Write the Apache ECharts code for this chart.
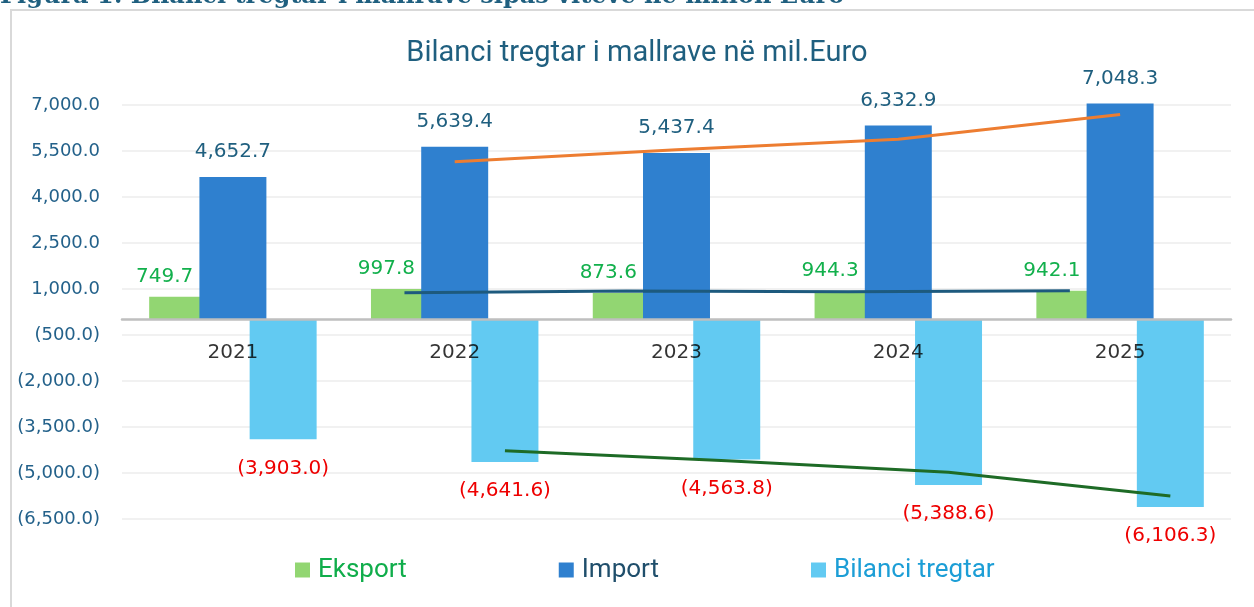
<!DOCTYPE html>
<html>
<head>
<meta charset="utf-8">
<script src="https://cdn.jsdelivr.net/npm/echarts@6/dist/echarts.min.js"></script>
<style>
html,body{margin:0;padding:0;background:#fff;}
#chart{width:1254px;height:607px;}
</style>
</head>
<body>
<div id="chart"></div>
<script>
// ---- data ----
var categories = ['2021', '2022', '2023', '2024', '2025'];
var eksport = [749.7, 997.8, 873.6, 944.3, 942.1];
var importVals = [4652.7, 5639.4, 5437.4, 6332.9, 7048.3];
var bilanci = [-3903.0, -4641.6, -4563.8, -5388.6, -6106.3];
var seriesNames = ['Eksport', 'Import', 'Bilanci tregtar'];
var yTicks = { min: -6500, max: 7000, step: 1500 };
var chartTitle = 'Bilanci tregtar i mallrave në mil.Euro';
var caption = 'Figura 1: Bilanci tregtar i mallrave sipas viteve në milion Euro';

// ---- helpers ----
function fmt(v) {
  var a = Math.abs(v).toFixed(1).split('.');
  var s = a[0].replace(/\B(?=(\d{3})+(?!\d))/g, ',') + '.' + a[1];
  return v < 0 ? '(' + s + ')' : s;
}
// 2-period moving average trendline (as drawn by the spreadsheet)
function movingAvg(arr) {
  var out = [];
  for (var i = 1; i < arr.length; i++) out.push([i, (arr[i] + arr[i - 1]) / 2]);
  return out;
}
var BAR_W = 0.302;      // fraction of category band
var BAR_GAP = -0.25;    // overlap fraction of bar width
var shift = BAR_W * (1 + BAR_GAP);
function shifted(pts, k) { return pts.map(function (p) { return [p[0] + k * shift, p[1]]; }); }

var FONT_NUM = 'DejaVu Sans';
var FONT_TXT = 'Roboto';

var chart = echarts.init(document.getElementById('chart'), null, { renderer: 'canvas' });
chart.setOption({
  animation: false,
  backgroundColor: '#ffffff',
  title: {
    text: chartTitle,
    left: 632, top: 34, textAlign: 'center',
    textStyle: { fontFamily: FONT_TXT, fontWeight: 'normal', fontSize: 29, color: '#1f5f7f' }
  },
  graphic: [
    { type: 'rect', shape: { x: 11, y: 10, width: 1300, height: 700 },
      style: { fill: 'none', stroke: '#d9d9d9', lineWidth: 2 }, z: 0 },
    { type: 'text', x: 0, y: 9,
      style: { text: caption, fill: '#1f5f7f', font: 'bold 24px "DejaVu Serif"', textVerticalAlign: 'bottom' } }
  ],
  legend: {
    left: 290, top: 552,
    itemWidth: 15, itemHeight: 15, itemGap: 152, icon: 'rect',
    textStyle: { fontFamily: FONT_TXT, fontSize: 26, padding: [0, 0, 0, 3] },
    data: [
      { name: seriesNames[0], textStyle: { color: '#10ad4b' } },
      { name: seriesNames[1], textStyle: { color: '#1f4e6b' } },
      { name: seriesNames[2], textStyle: { color: '#1c9ed6' } }
    ]
  },
  grid: { left: 122, right: 23, top: 105, height: 414, containLabel: false },
  xAxis: [
    {
      type: 'category', data: categories, z: 5,
      axisLine: { onZero: true, lineStyle: { color: '#bfbfbf', width: 2.5 } },
      axisTick: { show: false },
      axisLabel: { show: false },
      splitLine: { show: false }
    },
    { type: 'value', min: -0.5, max: categories.length - 0.5, show: false, gridIndex: 0 }
  ],
  yAxis: {
    type: 'value', min: yTicks.min, max: yTicks.max, interval: yTicks.step,
    axisLine: { show: false }, axisTick: { show: false },
    axisLabel: { margin: 22, color: '#23618a', fontFamily: FONT_NUM, fontSize: 18, formatter: fmt },
    splitLine: { lineStyle: { color: '#ececec', width: 1.5 } }
  },
  series: [
    {
      name: seriesNames[0], type: 'bar', data: eksport,
      barWidth: (BAR_W * 100) + '%', barGap: (BAR_GAP * 100) + '%',
      itemStyle: { color: '#92d672' },
      label: { show: true, position: 'outside', distance: 10, offset: [-18, 0], formatter: function (p) { return fmt(p.value); },
        color: '#12b04c', fontFamily: FONT_NUM, fontSize: 20 }
    },
    {
      name: seriesNames[1], type: 'bar', data: importVals, clip: false,
      barWidth: (BAR_W * 100) + '%', barGap: (BAR_GAP * 100) + '%',
      itemStyle: { color: '#2f80cf' },
      label: { show: true, position: 'outside', distance: 15, formatter: function (p) { return fmt(p.value); },
        color: '#1f5f7f', fontFamily: FONT_NUM, fontSize: 20 }
    },
    {
      name: seriesNames[2], type: 'bar', data: bilanci,
      barWidth: (BAR_W * 100) + '%', barGap: (BAR_GAP * 100) + '%',
      itemStyle: { color: '#62caf2' },
      label: { show: true, position: 'outside', distance: 19, formatter: function (p) { return fmt(p.value); },
        color: '#ee0000', fontFamily: FONT_NUM, fontSize: 20 }
    },
    {
      name: 'trend-eksport', type: 'line', xAxisIndex: 1, data: shifted(movingAvg(eksport), -1),
      showSymbol: false, symbol: 'none', silent: true, z: 6,
      lineStyle: { color: '#1d5a7e', width: 3 }
    },
    {
      name: 'trend-import', type: 'line', xAxisIndex: 1, data: shifted(movingAvg(importVals), 0),
      showSymbol: false, symbol: 'none', silent: true, z: 6,
      lineStyle: { color: '#ed7d31', width: 3 }
    },
    {
      name: 'trend-bilanci', type: 'line', xAxisIndex: 1, data: shifted(movingAvg(bilanci), 1),
      showSymbol: false, symbol: 'none', silent: true, z: 6,
      lineStyle: { color: '#1e6b26', width: 3 }
    },
    {
      // category labels hanging just below the zero axis line
      name: 'category-labels', type: 'scatter', xAxisIndex: 0,
      data: categories.map(function (c) { return [c, 0]; }),
      symbolSize: 0, silent: true, z: 8,
      label: { show: true, position: 'bottom', distance: 23, formatter: function (p) { return p.value[0]; },
        color: '#000000', fontFamily: FONT_NUM, fontSize: 20 }
    }
  ]
});
</script>
</body>
</html>
